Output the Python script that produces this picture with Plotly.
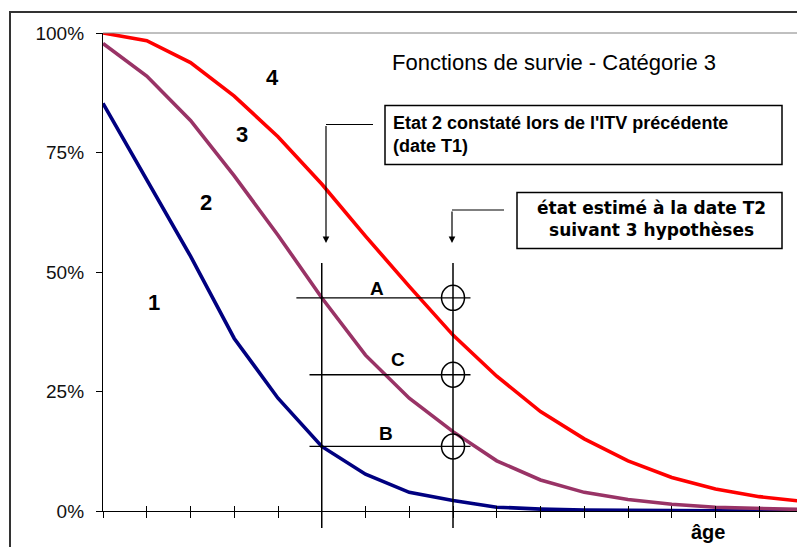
import plotly.graph_objects as go

# survival curves, one point per age step
age = list(range(17))
curve_1 = [0.853, 0.692, 0.533, 0.361, 0.236, 0.135, 0.077, 0.039, 0.022,
           0.008, 0.004, 0.002, 0.001, 0.0005, 0.0002, 0.0001, 0.0]
curve_2 = [0.978, 0.910, 0.817, 0.701, 0.577, 0.446, 0.326, 0.236, 0.166,
           0.105, 0.065, 0.039, 0.024, 0.014, 0.008, 0.005, 0.003]
curve_3 = [1.0, 0.984, 0.938, 0.868, 0.783, 0.684, 0.575, 0.470, 0.368,
           0.282, 0.208, 0.151, 0.105, 0.070, 0.046, 0.030, 0.020]

# inspection dates and the three hypotheses
t1, t2 = 5, 8
hyp_names = ["A", "C", "B"]
hyp_levels = [curve_2[t1], 0.285, curve_1[t1]]

y_ticks = [0, 0.25, 0.5, 0.75, 1.0]
y_labels = ["0%", "25%", "50%", "75%", "100%"]

FONT = "Arial, Liberation Sans, sans-serif"

# plot area in pixels (used to place the decorations in paper coords)
L, R, T, B = 103, 797, 33, 511


def fx(px):
    return (px - L) / (R - L)


def fy(py):
    return (B - py) / (B - T)


fig = go.Figure()
for ys, col in [(curve_1, "#000080"), (curve_2, "#993366"), (curve_3, "#FF0000")]:
    fig.add_trace(go.Scatter(x=age, y=ys, mode="lines",
                             line=dict(color=col, width=3.6), showlegend=False))

shapes = []
# outer chart frame
shapes.append(dict(type="rect", xref="paper", yref="paper", x0=fx(10), x1=fx(900),
                   y0=fy(700), y1=fy(12), line=dict(color="#333333", width=2)))
# plot area top border
shapes.append(dict(type="line", xref="paper", yref="paper", x0=0, x1=1.1, y0=1, y1=1,
                   line=dict(color="#808080", width=1)))
# vertical lines at T1 and T2
for t in (t1, t2):
    shapes.append(dict(type="line", xref="x", yref="paper", x0=t, x1=t,
                       y0=fy(528), y1=fy(263), line=dict(color="black", width=1.5)))
# horizontal hypothesis lines and circles
for name, lv in zip(hyp_names, hyp_levels):
    x_start = t1 - 0.58 if name == "A" else t1 - 0.28
    shapes.append(dict(type="line", xref="x", yref="y", x0=x_start, x1=t2 + 0.4,
                       y0=lv, y1=lv, line=dict(color="black", width=1.3)))
    shapes.append(dict(type="circle", xref="x", yref="y", xsizemode="pixel",
                       ysizemode="pixel", xanchor=t2, yanchor=lv,
                       x0=-11.5, x1=11.5, y0=-12.5, y1=12.5,
                       line=dict(color="black", width=1.5)))
# text boxes
shapes.append(dict(type="rect", xref="paper", yref="paper", x0=fx(385), x1=fx(782),
                   y0=fy(164.5), y1=fy(105.5), line=dict(color="black", width=1.5),
                   fillcolor="white"))
shapes.append(dict(type="rect", xref="paper", yref="paper", x0=fx(517), x1=fx(782),
                   y0=fy(248.5), y1=fy(192.5), line=dict(color="black", width=1.5),
                   fillcolor="white"))
# connectors from the boxes
shapes.append(dict(type="line", xref="paper", yref="paper", x0=fx(326), x1=fx(373),
                   y0=fy(124.5), y1=fy(124.5), line=dict(color="black", width=1.2)))
shapes.append(dict(type="line", xref="paper", yref="paper", x0=fx(452), x1=fx(504),
                   y0=fy(210), y1=fy(210), line=dict(color="black", width=1.2)))

ann = []
for px_, top in [(326, 124.5), (452, 210)]:
    ann.append(dict(xref="paper", yref="paper", x=fx(px_), y=fy(243), text="",
                    showarrow=True, arrowhead=2, arrowsize=1.1, arrowwidth=1.2,
                    arrowcolor="black", ax=0, ay=-(243 - top), standoff=0))


def label(px_, py_, text, size, bold=True, family=FONT, **kw):
    ann.append(dict(xref="paper", yref="paper", x=fx(px_), y=fy(py_), text=text,
                    showarrow=False, xanchor=kw.pop("xanchor", "center"),
                    yanchor="middle",
                    font=dict(family=family, size=size, color="black",
                              weight="bold" if bold else "normal"), **kw))


label(554, 62, "Fonctions de survie - Catégorie 3", 22, bold=False)
label(391, 134, "Etat 2 constaté lors de l'ITV précédente<br>(date T1)", 18,
      xanchor="left", align="left")
label(651, 219.5, "état estimé à la date T2<br>suivant 3 hypothèses", 17,
      family="DejaVu Sans, sans-serif")
for txt, px_, py_ in [("1", 154, 302), ("2", 206, 202), ("3", 242, 134), ("4", 272, 77)]:
    label(px_, py_, txt, 22)
for txt, px_, py_ in [("A", 377, 288), ("C", 398, 359), ("B", 386, 433)]:
    label(px_, py_, txt, 19)
label(708, 532, "âge", 20)

x_range = [0, (R - L) / 43.75]
fig.update_layout(
    width=797, height=547,
    margin=dict(l=L, r=0, t=T, b=547 - B),
    paper_bgcolor="white", plot_bgcolor="white",
    shapes=shapes, annotations=ann,
    xaxis=dict(range=x_range, tickvals=age[:16], ticks="outside", ticklen=6,
               tickcolor="black", showticklabels=False, showgrid=False,
               zeroline=False, showline=True, linecolor="black", linewidth=1.3),
    xaxis2=dict(range=x_range, overlaying="x", anchor="y", side="bottom",
                tickvals=age[:16], ticks="inside", ticklen=5, tickcolor="black",
                showticklabels=False, showgrid=False, zeroline=False, showline=False),
    yaxis=dict(range=[0, 1], tickvals=y_ticks, ticktext=y_labels, ticks="outside",
               ticklen=6, tickcolor="black", showgrid=False, zeroline=False,
               showline=True, linecolor="black", linewidth=1.3,
               ticklabelstandoff=8,
               tickfont=dict(family=FONT, size=19, color="#111111")),
)
# dummy trace so the overlay axis is drawn
fig.add_trace(go.Scatter(x=[None], y=[None], xaxis="x2", yaxis="y", showlegend=False))

# drop the default page margin so the figure sits at the window's corner
fig.write_html("out.html", config={"displayModeBar": False},
               post_script="document.body.style.margin='0';")
